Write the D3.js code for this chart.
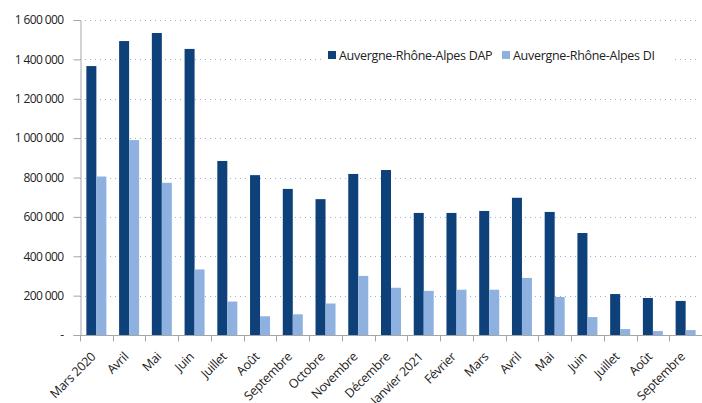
<!DOCTYPE html>
<html>
<head>
<meta charset="utf-8" />
<title>Auvergne-Rhône-Alpes DAP / DI</title>
<script src="https://d3js.org/d3.v7.min.js"></script>
<style>
  body, html { margin: 0; background: #ffffff; }
  text { font-family: 'Open Sans', sans-serif; fill: #222; }
</style>
</head>
<body>
<svg id="viz"></svg>
<script>

var months = ["Mars 2020", "Avril", "Mai", "Juin", "Juillet", "Août", "Septembre", "Octobre",
  "Novembre", "Décembre", "Janvier 2021", "Février", "Mars", "Avril", "Mai", "Juin",
  "Juillet", "Août", "Septembre"];

var dap = [1366000, 1493000, 1534000, 1453000, 884000, 812000, 742000, 690000,
  818000, 838000, 620000, 620000, 630000, 697000, 625000, 518000,
  208000, 188000, 173000];

var di = [805000, 990000, 773000, 333000, 170000, 95000, 105000, 160000,
  300000, 240000, 224000, 230000, 230000, 290000, 193000, 91000,
  30000, 20000, 25000];

var seriesNames = ["Auvergne-Rhône-Alpes DAP", "Auvergne-Rhône-Alpes DI"];
var yTicks = [0, 200000, 400000, 600000, 800000, 1000000, 1200000, 1400000, 1600000];

var colors = ["#0e4079", "#8eb1e0"];

var width = 702, height = 403;
var mLeft = 80, mRight = 702, mTop = 20, mBottom = 335;

var svg = d3.select("#viz")
  .attr("width", width)
  .attr("height", height);

var xScale = d3.scaleBand()
  .domain(d3.range(months.length))
  .range([mLeft, mRight]);

var yScale = d3.scaleLinear()
  .domain([0, 1600000])
  .range([mBottom, mTop]);

var fmt = function(v) {
  if (v === 0) return "-";
  return d3.format(",")(v).replace(/,/g, "\u00a0");
};

// gridlines
svg.append("g")
  .selectAll("line")
  .data(yTicks.slice(1))
  .enter().append("line")
  .attr("x1", mLeft)
  .attr("x2", 700)
  .attr("y1", function(d) { return Math.round(yScale(d)) + 0.5; })
  .attr("y2", function(d) { return Math.round(yScale(d)) + 0.5; })
  .attr("stroke", "#8eb1e0")
  .attr("stroke-width", 1)
  .attr("stroke-dasharray", "1,4");

// bars
var bw = 10;
var groups = svg.append("g").selectAll("g")
  .data(months)
  .enter().append("g");

groups.append("rect")
  .attr("x", function(d, i) { return xScale(i) + xScale.bandwidth() / 2 - bw; })
  .attr("y", function(d, i) { return yScale(dap[i]); })
  .attr("width", bw)
  .attr("height", function(d, i) { return mBottom - yScale(dap[i]); })
  .attr("fill", colors[0]);

groups.append("rect")
  .attr("x", function(d, i) { return xScale(i) + xScale.bandwidth() / 2; })
  .attr("y", function(d, i) { return yScale(di[i]); })
  .attr("width", bw)
  .attr("height", function(d, i) { return mBottom - yScale(di[i]); })
  .attr("fill", colors[1]);

// y axis
var yAxis = svg.append("g")
  .attr("transform", "translate(" + (mLeft + 0.5) + ",0)")
  .call(d3.axisLeft(yScale).tickValues(yTicks).tickFormat(fmt).tickSize(7).tickPadding(10));
yAxis.select(".domain").attr("stroke", "#a6a6a6");
yAxis.selectAll(".tick line").attr("stroke", "#a6a6a6");
yAxis.selectAll("text")
  .style("font-family", "'Open Sans', sans-serif")
  .style("font-size", "12px")
  .style("letter-spacing", "-0.6px")
  .attr("fill", "#222");

// x axis
var xAxis = svg.append("g")
  .attr("transform", "translate(0," + (mBottom + 0.5) + ")");
xAxis.append("line")
  .attr("x1", mLeft).attr("x2", mRight)
  .attr("stroke", "#a6a6a6");
xAxis.selectAll("line.tk")
  .data(d3.range(months.length))
  .enter().append("line")
  .attr("class", "tk")
  .attr("x1", function(i) { return Math.round(xScale(i)) + 0.5; })
  .attr("x2", function(i) { return Math.round(xScale(i)) + 0.5; })
  .attr("y1", 0).attr("y2", 6)
  .attr("stroke", "#a6a6a6");
xAxis.selectAll("text")
  .data(months)
  .enter().append("text")
  .attr("transform", function(d, i) {
    return "translate(" + (xScale(i) + xScale.bandwidth() / 2 - 3) + ",19) rotate(-45)";
  })
  .attr("text-anchor", "end")
  .attr("dy", "0.35em")
  .style("font-size", "12.5px")
  .style("letter-spacing", "-0.3px")
  .text(function(d) { return d; });

// legend
var legend = svg.append("g").attr("transform", "translate(322,44)");
legend.append("rect").attr("x", 0).attr("y", 0).attr("width", 350).attr("height", 24).attr("fill", "#fff");
var items = legend.selectAll("g.item")
  .data(seriesNames)
  .enter().append("g")
  .attr("class", "item")
  .attr("transform", function(d, i) { return "translate(" + (6 + i * 174) + ",0)"; });
items.append("rect")
  .attr("x", 0).attr("y", 7)
  .attr("width", 8).attr("height", 8)
  .attr("fill", function(d, i) { return colors[i]; });
items.append("text")
  .attr("x", 11).attr("y", 12)
  .attr("dy", "0.35em")
  .style("font-size", "12.5px")
  .style("letter-spacing", "-0.3px")
  .text(function(d) { return d; });

</script>
</body>
</html>
